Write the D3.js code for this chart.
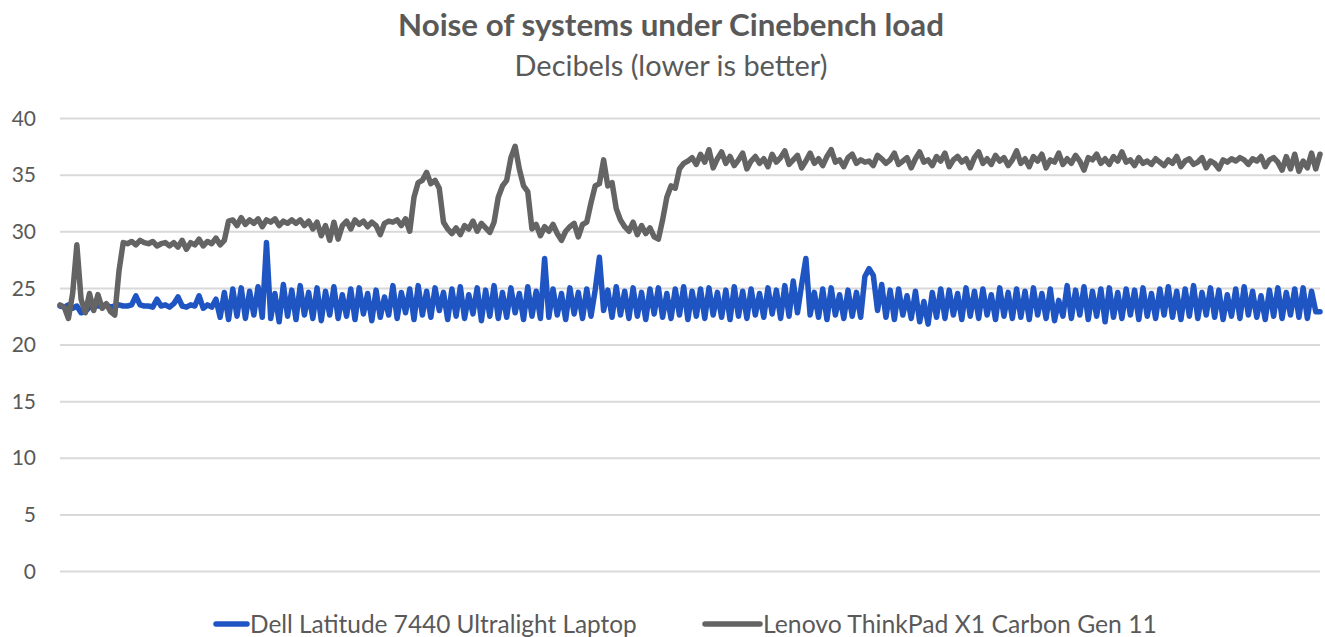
<!DOCTYPE html>
<html>
<head>
<meta charset="utf-8">
<script src="https://cdn.jsdelivr.net/npm/d3@7"></script>
<style>
  html, body { margin: 0; padding: 0; background: #fff; }
  svg { display: block; }
  text { font-family: Lato, "Open Sans", sans-serif; }
</style>
</head>
<body>
<svg id="chart" width="1325" height="637"></svg>
<script>
const title = "Noise of systems under Cinebench load";
const subtitle = "Decibels (lower is better)";
const yTicks = [0, 5, 10, 15, 20, 25, 30, 35, 40];
const seriesNames = ["Dell Latitude 7440 Ultralight Laptop", "Lenovo ThinkPad X1 Carbon Gen 11"];

const dell = [
  23.4, 23.3, 23.5, 23.2, 23.4, 22.8, 22.9, 23.3, 23.5, 23.4,
  23.4, 23.5, 23.3, 23.4, 23.5, 23.4, 23.4, 23.5, 24.3, 23.5,
  23.4, 23.4, 23.3, 24.0, 23.4, 23.5, 23.3, 23.6, 24.2, 23.4,
  23.3, 23.5, 23.4, 24.3, 23.2, 23.5, 23.3, 24.0, 22.4, 24.6,
  22.2, 24.9, 22.5, 25.0, 22.3, 24.7, 22.6, 25.1, 22.4, 29.0,
  22.3, 24.5, 22.0, 25.3, 22.5, 24.8, 22.2, 25.2, 22.6, 24.6,
  22.3, 25.0, 22.1, 24.7, 22.6, 25.1, 22.3, 24.4, 22.5, 24.9,
  22.2, 25.0, 22.7, 24.5, 22.1, 24.8, 22.4, 24.2, 22.6, 25.2,
  22.3, 24.6, 22.8, 24.9, 22.2, 25.2, 22.6, 24.7, 22.4, 25.0,
  23.0, 24.6, 22.2, 24.9, 22.5, 25.1, 22.3, 24.4, 22.7, 25.0,
  22.1, 24.8, 22.5, 25.2, 22.3, 24.6, 22.4, 25.0, 22.8, 24.5,
  22.2, 25.1, 22.5, 24.7, 22.3, 27.6, 22.4, 24.9, 22.6, 24.5,
  22.2, 25.0, 22.7, 24.6, 22.3, 24.9, 22.5, 24.8, 27.7, 23.0,
  24.8, 22.4, 25.1, 22.6, 24.7, 22.3, 25.0, 22.5, 24.6, 22.2,
  24.9, 22.7, 25.0, 22.4, 24.5, 22.3, 24.9, 22.6, 25.1, 22.2,
  24.7, 22.5, 24.9, 22.3, 25.0, 22.6, 24.6, 22.4, 24.8, 22.2,
  25.1, 22.5, 24.7, 22.3, 24.9, 22.6, 24.5, 22.4, 25.0, 22.7,
  24.8, 22.3, 25.2, 22.5, 25.6, 22.8, 25.3, 27.6, 22.6, 24.6,
  22.4, 24.9, 22.2, 25.0, 22.6, 24.4, 22.3, 24.8, 22.5, 24.6,
  22.4, 26.0, 26.7, 26.1, 23.0, 25.3, 22.4, 24.8, 22.2, 24.9,
  22.6, 24.3, 22.3, 24.7, 22.0, 23.8, 21.8, 24.6, 22.4, 24.9,
  22.3, 24.8, 22.6, 24.5, 22.2, 25.0, 22.5, 24.7, 22.3, 24.9,
  22.6, 24.4, 22.2, 25.0, 22.5, 24.6, 22.3, 24.9, 22.4, 24.7,
  22.2, 25.0, 22.6, 24.5, 22.3, 24.9, 22.1, 23.9, 22.5, 25.2,
  22.3, 24.8, 22.6, 25.1, 22.2, 24.7, 22.5, 24.9, 22.0, 25.0,
  22.4, 24.6, 22.3, 24.9, 22.6, 24.8, 22.2, 25.0, 22.5, 24.5,
  22.3, 24.9, 22.6, 25.1, 22.4, 24.7, 22.2, 24.9, 22.5, 25.2,
  22.3, 24.6, 22.6, 25.0, 22.4, 24.8, 22.2, 24.4, 22.5, 24.9,
  22.3, 25.1, 22.6, 24.7, 22.4, 24.3, 22.2, 24.8, 22.5, 25.0,
  22.3, 24.6, 22.6, 24.9, 22.4, 25.0, 22.3, 24.7, 22.9, 22.9
];

const lenovo = [
  23.5, 23.3, 22.3, 24.5, 28.8, 24.0, 22.8, 24.5, 23.0, 24.4,
  23.2, 23.6, 22.9, 22.6, 26.5, 29.0, 28.9, 29.1, 28.8, 29.2,
  29.0, 28.9, 29.1, 28.7, 28.9, 29.0, 28.7, 29.0, 28.6, 29.2,
  28.4, 29.0, 28.8, 29.3, 28.7, 29.1, 28.9, 29.4, 28.8, 29.2,
  30.9, 31.0, 30.5, 31.2, 30.6, 31.0, 30.7, 31.1, 30.4, 31.0,
  30.8, 31.1, 30.5, 30.9, 30.7, 31.0, 30.7, 31.0, 30.5, 30.9,
  30.2, 30.8, 29.6, 30.5, 29.2, 30.8, 29.3, 30.5, 30.9, 30.2,
  31.0, 30.6, 30.9, 30.4, 30.8, 30.5, 29.7, 30.7, 30.9, 30.8,
  31.0, 30.5, 31.1, 30.0, 33.0, 34.3, 34.5, 35.2, 34.2, 34.5,
  33.8, 30.8, 30.2, 29.8, 30.3, 29.7, 30.5, 30.2, 30.9, 30.0,
  30.7, 30.3, 29.9, 30.8, 33.0, 34.0, 34.5, 36.5, 37.5, 35.5,
  34.0, 33.5, 30.2, 30.6, 29.6, 30.4, 30.0, 30.6, 29.8, 29.2,
  30.0, 30.4, 30.7, 29.5, 30.6, 30.8, 32.5, 34.0, 34.2, 36.3,
  34.0, 34.3, 32.0, 31.0, 30.4, 30.0, 30.8, 29.7, 30.5, 29.8,
  30.3, 29.5, 29.3, 31.0, 33.0, 34.0, 33.8, 35.5, 36.0, 36.2,
  36.5, 35.9, 36.8, 36.1, 37.2, 35.6, 36.4, 37.0, 36.0, 36.6,
  35.8, 36.3, 36.9, 35.5, 36.2, 36.6, 36.0, 36.4, 35.7, 36.8,
  36.1, 36.5, 37.1, 35.9, 36.3, 36.7, 35.6, 36.2, 36.9, 36.0,
  36.4, 35.8, 36.6, 37.2, 36.1, 36.3, 35.7, 36.5, 36.8, 36.0,
  36.3, 36.1, 36.2, 35.8, 36.7, 36.4, 36.0, 36.3, 36.9, 35.9,
  36.2, 36.5, 35.6, 36.4, 37.0, 36.1, 36.3, 35.8, 36.6, 36.2,
  36.9, 35.7, 36.3, 36.6, 36.1, 36.4, 35.6, 36.5, 37.0, 36.0,
  36.4, 35.9, 36.7, 36.2, 36.5, 35.8, 36.3, 37.1, 36.0, 36.4,
  35.7, 36.6, 36.2, 36.8, 35.6, 36.3, 36.1, 36.9, 35.9, 36.4,
  36.0, 36.7, 36.2, 35.4, 36.5, 36.3, 36.8, 36.0, 36.4, 35.9,
  36.6, 36.2, 37.0, 36.1, 36.3, 35.8, 36.5, 36.0, 36.2, 35.9,
  36.4, 36.1, 35.8, 36.3, 36.0, 36.6, 35.7, 36.2, 36.4, 35.9,
  36.1, 36.5, 35.6, 36.2, 36.0, 35.5, 36.3, 36.1, 36.4, 36.2,
  36.5, 36.3, 35.9, 36.4, 36.2, 36.6, 35.7, 36.3, 36.5, 36.1,
  35.4, 36.6, 35.5, 36.8, 35.3, 36.2, 35.6, 36.9, 35.5, 36.8
];

const colors = ["#1f55c3", "#646464"];

const svg = d3.select("#chart");
const W = 1325, H = 637;
const margin = { left: 60, right: 5, top: 118, bottom: 66 };

const x = d3.scaleLinear().domain([0, dell.length - 1]).range([margin.left, W - margin.right]);
const y = d3.scaleLinear().domain([0, 40]).range([H - margin.bottom, margin.top]);

function fitText(sel, target) {
  const w = sel.node().getComputedTextLength();
  const fs = parseFloat(sel.attr("font-size"));
  sel.attr("font-size", (fs * target / w).toFixed(2));
}

// Title
const t1 = svg.append("text").attr("x", 671).attr("y", 36).attr("text-anchor", "middle")
  .attr("font-size", 26).attr("font-weight", "bold").attr("fill", "#595959").text(title);
fitText(t1, 546);
const t2 = svg.append("text").attr("x", 671).attr("y", 76).attr("text-anchor", "middle")
  .attr("font-size", 22).attr("fill", "#595959").text(subtitle);
fitText(t2, 313);

// Gridlines + y axis
const yAxis = d3.axisLeft(y).tickValues(yTicks).tickSize(-(W - margin.right - margin.left)).tickPadding(24);
const gy = svg.append("g").attr("transform", `translate(${margin.left},0)`).call(yAxis);
gy.select(".domain").remove();
gy.selectAll(".tick line").attr("stroke", "#d9d9d9").attr("stroke-width", 2);
gy.selectAll(".tick text").attr("fill", "#595959").attr("font-size", 21)
  .attr("font-family", "Lato, sans-serif").attr("dy", "0.34em");

// Lines
const line = d3.line().x((d, i) => x(i)).y(d => y(d)).curve(d3.curveLinear);
[dell, lenovo].forEach((s, k) => {
  svg.append("path").datum(s).attr("d", line).attr("fill", "none")
    .attr("stroke", colors[k]).attr("stroke-width", 5.5)
    .attr("stroke-linejoin", "round").attr("stroke-linecap", "round");
});

// Legend
const legendY = 624;
const legendItems = [
  { sx: 216, ex: 247, tx: 250, tw: 387 },
  { sx: 705, ex: 760, tx: 763, tw: 394 }
];
legendItems.forEach((it, k) => {
  svg.append("line").attr("x1", it.sx).attr("x2", it.ex).attr("y1", legendY).attr("y2", legendY)
    .attr("stroke", colors[k]).attr("stroke-width", 5.5).attr("stroke-linecap", "round");
  const tt = svg.append("text").attr("x", it.tx).attr("y", legendY).attr("dy", "0.35em")
    .attr("font-size", 22).attr("fill", "#595959").text(seriesNames[k]);
  fitText(tt, it.tw);
});
</script>
</body>
</html>
